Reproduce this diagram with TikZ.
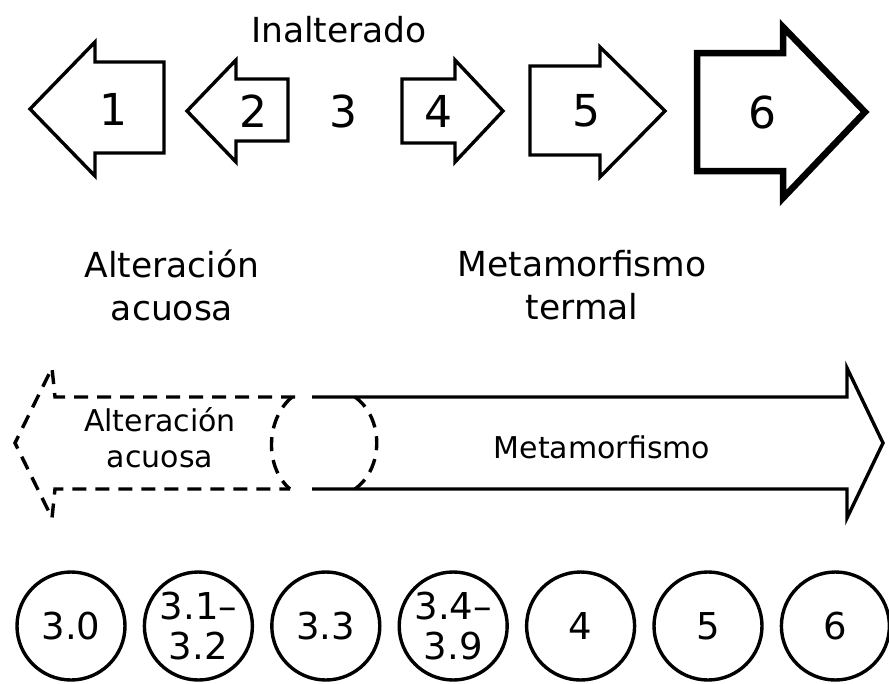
\documentclass[tikz,border=0pt]{standalone}
\usepackage{fontspec}
\setmainfont{DejaVu Sans}
\usetikzlibrary{positioning}

\begin{document}
\begin{tikzpicture}[
    x=1pt, y=-1pt,
    blk/.style={draw, line width=3.4pt, line join=miter},
    wet/.style={line width=3.4pt, dash pattern=on 14pt off 9pt},
    num/.style={inner sep=0pt, font=\fontsize{44}{50}\selectfont},
    toplbl/.style={align=center, inner sep=0pt, font=\fontsize{34.5}{43}\selectfont},
    inlbl/.style={align=center, inner sep=0pt, font=\fontsize{30}{36}\selectfont},
    stage/.style={draw, circle, line width=3.4pt, minimum size=108pt, inner sep=0pt,
      align=center, font=\fontsize{37}{40}\selectfont}
  ]
  \useasboundingbox (0,0) rectangle (889,683);

  % top row of arrows
  \node[toplbl] (unalt) at (339,30) {Inalterado};
  \draw[blk] (30,109) -- (95,42) -- (95,62) -- (164,62) -- (164,153) -- (95,153) -- (95,176) -- cycle;
  \node[num] (a1) at (113,109) {1};
  \draw[blk] (187,111) -- (236,60) -- (236,79) -- (288,79) -- (288,141) -- (236,141) -- (236,162) -- cycle;
  \node[num] (a2) at (253,111) {2};
  \node[num] (a3) at (343,111) {3};
  \draw[blk] (402,79) -- (455,79) -- (455,60) -- (503,111) -- (455,162) -- (455,143) -- (402,143) -- cycle;
  \node[num] (a4) at (438,111) {4};
  \draw[blk] (530,66) -- (600,66) -- (600,47) -- (665,111) -- (600,177) -- (600,155) -- (530,155) -- cycle;
  \node[num] (a5) at (586,111) {5};
  \draw[blk, line width=6.5pt] (697,53) -- (783,53) -- (783,27) -- (865,112) -- (783,198) -- (783,171) -- (697,171) -- cycle;
  \node[num] (a6) at (762,112) {6};

  \node[toplbl] (alt) at (172,285) {Alteración\\acuosa};
  \node[toplbl] (meta) at (582,285) {Metamorfismo\\termal};

  % long arrow
  \draw[wet] (295,397) -- (55,397) -- (52,368) -- (15,443) -- (52,518) -- (55,489) -- (290,489);
  \draw[wet] (292,397) .. controls (265,420) and (265,468) .. (290,489);
  \draw[wet] (355,397) .. controls (384,418) and (384,468) .. (355,489);
  \draw[blk] (312,397) -- (847,397) -- (847,368) -- (883,443) -- (847,518) -- (847,489) -- (312,489);
  \node[inlbl] (altin) at (160,438) {Alteración\\acuosa};
  \node[inlbl] (metain) at (602,447) {Metamorfismo};

  % circles
  \node[stage] (s30) at (71,626) {3.0};
  \node[stage, right=16pt of s30] (s31) {3.1–\\3.2};
  \node[stage, right=16pt of s31] (s33) {3.3};
  \node[stage, right=16pt of s33] (s34) {3.4–\\3.9};
  \node[stage, right=16pt of s34] (s4) {4};
  \node[stage, right=16pt of s4] (s5) {5};
  \node[stage, right=16pt of s5] (s6) {6};
\end{tikzpicture}
\end{document}
